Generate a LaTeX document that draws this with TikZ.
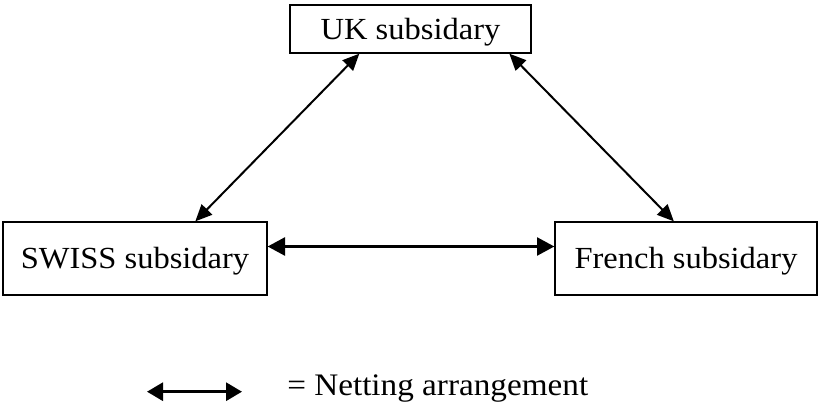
\documentclass[tikz,border=0pt]{standalone}
\usepackage{fontspec}
\setmainfont{Liberation Serif}[FakeStretch=1.06]
\usetikzlibrary{arrows.meta,calc}

\tikzset{
    subbox/.style={draw, line width=1pt, inner sep=0pt, text height=15.2pt, text depth=0pt, font=\fontsize{23}{28}\selectfont},
    netting/.style={{Triangle[length=12.5pt,width=11pt]}-{Triangle[length=12.5pt,width=11pt]}, line width=1.5pt}
}

\begin{document}
\begin{tikzpicture}[x=0.75pt, y=0.75pt]
    \useasboundingbox (0,0) rectangle (818,401);
    \node [subbox, minimum width=180.75pt, minimum height=36pt] (uk) at (410.5,372) {UK subsidary};
    \node [subbox, minimum width=198pt, minimum height=54.75pt] (swiss) at (135,142.5) {SWISS subsidary};
    \node [subbox, minimum width=196.5pt, minimum height=54.75pt] (french) at (686,142.5) {French subsidary};
    \draw [netting] ($(uk.south west)+(70,0)$) to ($(swiss.north west)+(193,0)$);
    \draw [netting] ($(uk.south west)+(220,0)$) to ($(french.north west)+(119.5,0)$);
    \draw [netting, line width=1.9pt, {Triangle[length=13pt,width=13.5pt]}-{Triangle[length=13pt,width=13.5pt]}] ($(swiss.east)+(0,12)$) to ($(french.west)+(0,12)$);
    % legend
    \coordinate (legl) at (147,9.3);
    \coordinate (legr) at (242,9.3);
    \draw [netting, line width=2.3pt, {Triangle[length=12pt,width=13.5pt]}-{Triangle[length=12pt,width=13.5pt]}] (legl) to (legr);
    \node [anchor=base west, inner sep=0pt, font=\fontsize{23.5}{28}\selectfont] (legtext) at (287,6) {= Netting arrangement};
\end{tikzpicture}
\end{document}
